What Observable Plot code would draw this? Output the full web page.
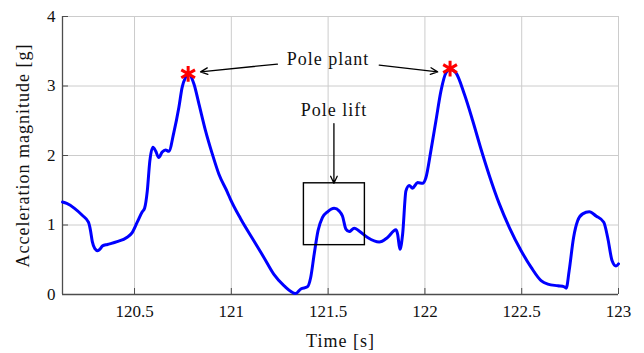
<!DOCTYPE html>
<html>
<head>
<meta charset="utf-8">
<script src="https://cdn.jsdelivr.net/npm/d3@7"></script>
<script src="https://cdn.jsdelivr.net/npm/@observablehq/plot@0.6"></script>
<style>
  html, body { margin: 0; padding: 0; background: white; }
  #chart svg, #chart svg text { font-family: "Liberation Serif", "DejaVu Serif", serif !important; font-weight: normal !important; }
</style>
</head>
<body>
<div id="chart"></div>
<script>
// ---- data ----
const time = [120.128, 120.15, 120.19, 120.23, 120.262, 120.272, 120.282, 120.295, 120.31, 120.322,
  120.335, 120.36, 120.41, 120.46, 120.488, 120.514, 120.54, 120.552, 120.566, 120.579,
  120.595, 120.61, 120.625, 120.643, 120.66, 120.677, 120.703, 120.729, 120.746, 120.763,
  120.78, 120.807, 120.833, 120.867, 120.902, 120.936, 120.98, 120.997, 121.048, 121.117,
  121.169, 121.22, 121.273, 121.333, 121.359, 121.393, 121.41, 121.428, 121.448, 121.471,
  121.497, 121.531, 121.558, 121.574, 121.592, 121.609, 121.635, 121.66, 121.704, 121.764,
  121.807, 121.85, 121.859, 121.871, 121.885, 121.902, 121.919, 121.936, 121.962, 121.988,
  122.005, 122.031, 122.057, 122.083, 122.109, 122.131, 122.16, 122.204, 122.247, 122.29,
  122.333, 122.385, 122.437, 122.497, 122.549, 122.6, 122.635, 122.687, 122.72, 122.73,
  122.745, 122.768, 122.789, 122.815, 122.849, 122.884, 122.924, 122.944, 122.967, 122.987, 123.0];
const accel = [1.33, 1.31, 1.24, 1.14, 1.04, 0.93, 0.76, 0.66, 0.63, 0.655,
  0.70, 0.72, 0.76, 0.82, 0.89, 1.04, 1.19, 1.24, 1.49, 1.92,
  2.12, 2.06, 1.97, 2.05, 2.08, 2.06, 2.33, 2.69, 2.98, 3.12,
  3.17, 3.03, 2.74, 2.355, 2.02, 1.73, 1.47, 1.36, 1.09, 0.77,
  0.53, 0.29, 0.125, 0.015, 0.08, 0.11, 0.245, 0.58, 0.92, 1.11,
  1.19, 1.24, 1.20, 1.13, 0.94, 0.905, 0.955, 0.915, 0.82, 0.755,
  0.82, 0.93, 0.87, 0.65, 0.87, 1.49, 1.57, 1.53, 1.61, 1.60,
  1.68, 2.07, 2.50, 2.93, 3.19, 3.24, 3.19, 2.88, 2.50, 2.09,
  1.71, 1.30, 0.96, 0.63, 0.39, 0.20, 0.15, 0.125, 0.11, 0.09,
  0.34, 0.82, 1.06, 1.16, 1.19, 1.13, 1.04, 0.82, 0.485, 0.41, 0.44];

const xTicks = [120.5, 121, 121.5, 122, 122.5, 123];
const yTicks = [0, 1, 2, 3, 4];
const xDomain = [120.128, 123];
const yDomain = [0, 4];

const peakTime = [120.777, 122.13];
const peakAccel = [3.175, 3.25];

const plantLabel = "Pole plant";
const plantLabelX = 121.5, plantLabelY = 3.38;
const plantArrowX1 = [121.238, 121.764];
const plantArrowY1 = [3.315, 3.30];
const plantArrowX2 = [120.841, 122.066];
const plantArrowY2 = [3.204, 3.204];

const liftLabel = "Pole lift";
const liftLabelX = 121.53, liftLabelY = 2.65;
const liftArrowX = 121.53, liftArrowY1 = 2.46, liftArrowY2 = 1.6;
const liftBox = {x1: 121.375, x2: 121.69, y1: 0.71, y2: 1.6};

const xLabel = "Time [s]";
const yLabel = "Acceleration magnitude [g]";

// ---- build ----
const series = time.map((t, i) => ({t, a: accel[i]}));
const peaks = peakTime.map((t, i) => ({t, a: peakAccel[i]}));
const plantArrows = plantArrowX1.map((x1, i) => ({x1, y1: plantArrowY1[i], x2: plantArrowX2[i], y2: plantArrowY2[i]}));

const W = 644, H = 353, mT = 16, mB = 59, mL = 62, mR = 26;
const plotW = W - mL - mR, plotH = H - mT - mB;
const axisColor = "#4d4d4d";
const gridColor = "#cccccc";
const font = "Liberation Serif, DejaVu Serif, serif";

const chart = Plot.plot({
  width: W, height: H,
  marginTop: mT, marginBottom: mB, marginLeft: mL, marginRight: mR,
  x: {domain: xDomain},
  y: {domain: yDomain},
  style: {fontFamily: font, fontSize: "17px", color: "#111", background: "white", overflow: "visible"},
  marks: [
    Plot.gridX(xTicks, {stroke: gridColor, strokeOpacity: 1, strokeWidth: 1}),
    Plot.gridY(yTicks, {stroke: gridColor, strokeOpacity: 1, strokeWidth: 1}),
    Plot.tickX(xTicks, {x: d => d, insetTop: plotH - 6, stroke: axisColor, strokeWidth: 1}),
    Plot.tickY(yTicks, {y: d => d, insetRight: plotW - 6, stroke: axisColor, strokeWidth: 1}),
    Plot.ruleY([yDomain[0]], {stroke: axisColor, strokeWidth: 1.3}),
    Plot.ruleX([xDomain[0]], {stroke: axisColor, strokeWidth: 1.3}),
    Plot.axisX(xTicks, {tickSize: 0, tickPadding: 10, label: null, tickFormat: d => String(d), fontSize: 17}),
    Plot.axisY(yTicks, {tickSize: 0, tickPadding: 7, label: null, tickFormat: d => String(d), fontSize: 17}),
    Plot.text([xLabel], {frameAnchor: "bottom", lineAnchor: "middle", textAnchor: "middle", dy: 47, fontSize: 18, fill: "#111"}),
    Plot.text([yLabel], {frameAnchor: "left", lineAnchor: "middle", textAnchor: "middle", dx: -39, rotate: -90, fontSize: 18, fill: "#111"}),
    Plot.line(series, {x: "t", y: "a", stroke: "#0000ff", strokeWidth: 3, curve: "monotone-x", strokeLinejoin: "round", strokeLinecap: "round"}),
    Plot.rect([liftBox], {x1: "x1", x2: "x2", y1: "y1", y2: "y2", fill: "none", stroke: "black", strokeWidth: 1.4}),
    Plot.arrow(plantArrows, {x1: "x1", y1: "y1", x2: "x2", y2: "y2", stroke: "black", strokeWidth: 1.3, headLength: 9, headAngle: 50}),
    Plot.arrow([{}], {x1: () => liftArrowX, x2: () => liftArrowX, y1: () => liftArrowY1, y2: () => liftArrowY2, stroke: "black", strokeWidth: 1.3, headLength: 9, headAngle: 50}),
    Plot.text([plantLabel], {x: () => plantLabelX, y: () => plantLabelY, fontSize: 18, fill: "#111"}),
    Plot.text([liftLabel], {x: () => liftLabelX, y: () => liftLabelY, fontSize: 18, fill: "#111"}),
    Plot.dot(peaks, {x: "t", y: "a", symbol: "asterisk", r: 7.5, stroke: "#ff0000", strokeWidth: 3})
  ]
});
// widen label text a little to match the reference typeface
chart.querySelectorAll("g[aria-label='text'] text").forEach(t => t.setAttribute("letter-spacing", "1"));
document.getElementById("chart").appendChild(chart);
</script>
</body>
</html>
